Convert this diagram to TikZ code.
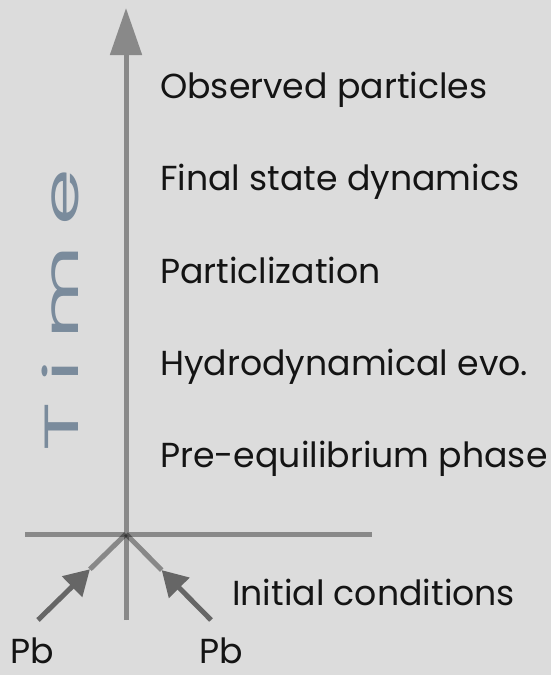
\documentclass[tikz,border=0pt]{standalone}
\usepackage{fontspec}
\setmainfont{Poppins}
\usetikzlibrary{arrows.meta,positioning,calc}
\definecolor{bggray}{HTML}{DCDCDC}
\definecolor{axisgray}{HTML}{898989}
\definecolor{beamgray}{HTML}{666666}
\definecolor{timeblue}{HTML}{7A8B9C}
\tikzset{
  axisline/.style={line width=5pt, draw=axisgray, fill=axisgray},
  beam/.style={line width=5pt, draw=beamgray, fill=beamgray,
               -{Triangle[length=25pt, width=28pt]}},
  beamrest/.style={line width=5pt, draw=black, opacity=0.38},
  stage/.style={anchor=base west, inner sep=0pt, text=black!92,
                font=\fontsize{34.7}{35}\selectfont},
}

\begin{document}
\begin{tikzpicture}[x=1pt, y=-1pt]
  % background
  \fill[bggray] (0,0) rectangle (551,675);
  \useasboundingbox (0,0) rectangle (551,675);
  % axes
  \coordinate (origin) at (126,534);
  \coordinate (tbot)   at (126,620);
  \coordinate (ttop)   at (126,8);
  \coordinate (hleft)  at (25,534);
  \coordinate (hright) at (372,534);
  \draw[axisline, -{Triangle[length=47pt, width=31pt]}] (tbot) -- (ttop);
  \draw[axisline] (hleft) -- (hright);
  % incoming nuclei
  \coordinate (pbL) at (38,620);
  \coordinate (pbR) at (211,620);
  \coordinate (hitL) at ($(pbL)!0.59!(origin)$);
  \coordinate (hitR) at ($(pbR)!0.58!(origin)$);
  \draw[beamrest] (hitL) -- (origin);
  \draw[beamrest] (hitR) -- (origin);
  \draw[beam] (pbL) -- (hitL);
  \draw[beam] (pbR) -- (hitR);
  % time label
  \node[anchor=base west, inner sep=0pt, rotate=90, xscale=1.9, text=timeblue,
        font=\fontsize{48}{48}\selectfont\addfontfeature{LetterSpace=22}]
        (time) at (78,452) {Time};
  % stages
  \node[stage] (observed) at (160,98)  {Observed particles};
  \node[stage] (final)    at (160,190) {Final state dynamics};
  \node[stage] (partic)   at (160,283) {Particlization};
  \node[stage] (hydro)    at (160,375) {Hydrodynamical evo.};
  \node[stage] (preeq)    at (160,467) {Pre-equilibrium phase};
  \node[stage] (initial)  at (232,605) {Initial conditions};
  % nuclei labels
  \node[stage] (pbleft)  at (10,663)  {Pb};
  \node[stage] (pbright) at (199,663) {Pb};
\end{tikzpicture}
\end{document}
